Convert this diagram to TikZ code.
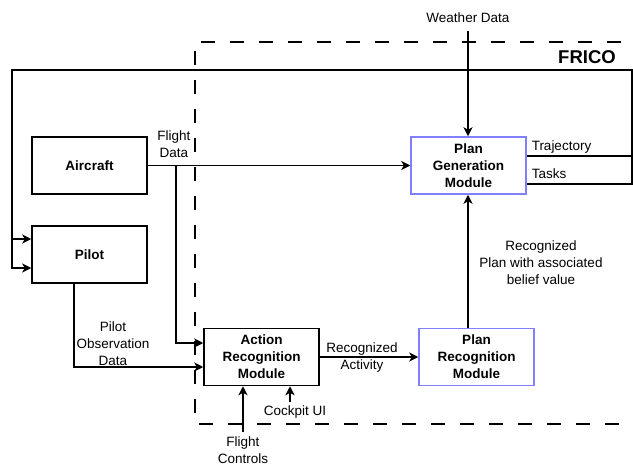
\documentclass[tikz,border=0pt]{standalone}
\usepackage{fontspec}
\setmainfont{Liberation Sans}
\usetikzlibrary{arrows.meta}
\definecolor{boxblue}{RGB}{128,128,255}
\begin{document}
\begin{tikzpicture}[x=1pt,y=-1pt,
  line width=1.5pt,
  blk/.style={draw=black, minimum width=115pt, minimum height=57pt, inner sep=0pt, align=center, font=\fontsize{13.5}{17}\selectfont\bfseries},
  bluebox/.style={blk, draw=boxblue},
  lbl/.style={align=center, inner sep=0pt, font=\fontsize{13.5}{17}\selectfont},
  arr/.style={-{Stealth[length=9pt,width=9pt,inset=2.5pt]}},
  frame/.style={dash pattern=on 14pt off 15pt, line width=1.5pt}
  ]
\useasboundingbox (0,0) rectangle (633,466);

% FRICO dashed frame
\draw[frame] (650,42) -- (195,42) -- (195,424) -- (650,424);
\node[lbl, font=\fontsize{18.5}{20}\selectfont\bfseries] (frico) at (587,57) {FRICO};

% blocks
\node[blk] (aircraft) at (89.5,165.5) {Aircraft};
\node[blk] (pilot) at (89.5,254.5) {Pilot};
\node[bluebox] (plangen) at (468.5,165.5) {Plan\\Generation\\Module};
\node[blk] (action) at (261.5,357) {Action\\Recognition\\Module};
\node[bluebox] (planrec) at (476.5,357) {Plan\\Recognition\\Module};

% helper coordinates
\coordinate (fdX) at (176,343);
\coordinate (poX) at (74,367);
\coordinate (recX) at (468,0);
\coordinate (wd) at (468,31);
\coordinate (tr) at (632,156);
\coordinate (ta) at (632,184);
\coordinate (tl) at (632,70);
\coordinate (ltop) at (12,70);
\coordinate (lbot) at (12,268);
\coordinate (lmid) at (12,239);
\coordinate (fc) at (243,432);
\coordinate (cu) at (290,402);

% connectors
\draw[arr] (aircraft.east) -- (plangen.west);
\draw[arr] (aircraft.east -| fdX) -- (fdX) -- (action.west |- fdX);
\draw[arr] (pilot.south -| poX) -- (poX) -- (action.west |- poX);
\draw[arr] (action.east) -- (planrec.west);
\draw[arr] (planrec.north -| recX) -- (plangen.south -| recX);
\draw[arr] (wd) -- (plangen.north -| wd);
\draw[arr] (plangen.east |- tr) -- (tr) -- (tl) -- (ltop) -- (lbot) -- (pilot.west |- lbot);
\draw[arr] (lmid) -- (pilot.west |- lmid);
\draw (plangen.east |- ta) -- (ta) -- (tr);
\draw[arr] (fc) -- (action.south -| fc);
\draw[arr] (cu) -- (action.south -| cu);

% labels
\node[lbl] (wdl) at (468,18) {Weather Data};
\node[lbl] (fdl) at (174,144.5) {Flight\\Data};
\node[lbl, anchor=west] (trl) at (531,147) {Trajectory};
\node[lbl, anchor=west] (tal) at (531,174) {Tasks};
\node[lbl] (podl) at (113,343.5) {Pilot\\Observation\\Data};
\node[lbl] (ral) at (362,358) {Recognized\\Activity};
\node[lbl] (rpl) at (541,263) {Recognized\\Plan with associated\\belief value};
\node[lbl] (cul) at (295,412) {Cockpit UI};
\node[lbl] (fcl) at (243,450) {Flight\\Controls};
\end{tikzpicture}
\end{document}
